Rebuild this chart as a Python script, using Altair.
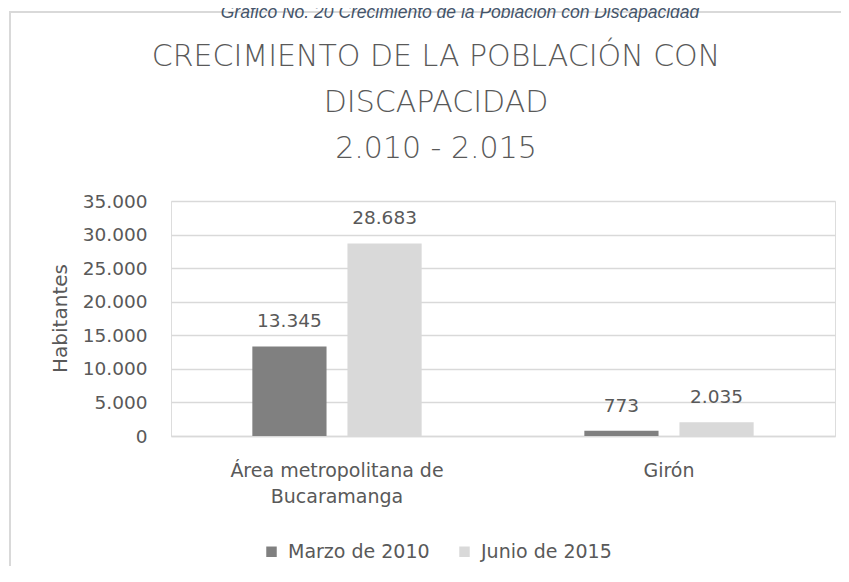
import altair as alt
import pandas as pd

categories = ["Área metropolitana de\nBucaramanga", "Girón"]
series = ["Marzo de 2010", "Junio de 2015"]
values_2010 = [13345, 773]
values_2015 = [28683, 2035]
y_ticks = [0, 5000, 10000, 15000, 20000, 25000, 30000, 35000]
title_lines = ["CRECIMIENTO DE LA POBLACIÓN CON", "DISCAPACIDAD", "2.010 - 2.015"]
caption = "Gráfico No. 20 Crecimiento de la Población con Discapacidad"

rows = []
for c, v in zip(categories, values_2010):
    rows.append({"cat": c, "serie": series[0], "val": v})
for c, v in zip(categories, values_2015):
    rows.append({"cat": c, "serie": series[1], "val": v})
df = pd.DataFrame(rows)

FONT = "DejaVu Sans"
TXT = "#595959"

x_axis = alt.Axis(labelExpr="split(datum.label, '\\n')", labelAngle=0,
                  labelFontSize=19, labelColor=TXT, labelFont=FONT,
                  labelLineHeight=26, labelPadding=25, ticks=False,
                  domainColor="#d9d9d9", domainWidth=1.5, labelLimit=0,
                  labelBaseline="top")
y_axis = alt.Axis(values=y_ticks, ticks=False, domain=False, labelOverlap=False,
                  labelExpr="replace(format(datum.value, ','), ',', '.')",
                  labelFontSize=18.5, labelColor=TXT, labelFont=FONT,
                  labelPadding=24, gridColor="#d9d9d9", gridWidth=1.5,
                  titleFontSize=20, titleFont=FONT, titleColor=TXT,
                  titleFontWeight="normal", titleX=-105, titleY=117,
                  titleAngle=-90, titleAlign="center",
                  titleBaseline="alphabetic")
x_scale = alt.Scale(paddingInner=0.49, paddingOuter=0.245)
xo_scale = alt.Scale(paddingInner=0.22, paddingOuter=0)
y_scale = alt.Scale(domain=[0, 35000])

bars = alt.Chart(df).mark_bar().encode(
    x=alt.X("cat:N", sort=categories, title=None, scale=x_scale, axis=x_axis),
    xOffset=alt.XOffset("serie:N", sort=series, scale=xo_scale),
    y=alt.Y("val:Q", title="Habitantes", scale=y_scale, axis=y_axis),
    color=alt.Color("serie:N", sort=series, title=None,
                    scale=alt.Scale(domain=series, range=["#808080", "#d9d9d9"]),
                    legend=alt.Legend(orient="none", legendX=91, legendY=341,
                                      direction="horizontal", symbolType="square",
                                      symbolSize=110, symbolStrokeWidth=0,
                                      labelFontSize=19, labelFont=FONT,
                                      labelColor=TXT, labelOffset=7,
                                      columnPadding=25)),
)

labels = alt.Chart(df).transform_calculate(
    lab="replace(format(datum.val, ','), ',', '.')"
).mark_text(font=FONT, fontSize=18.5, color=TXT, baseline="alphabetic", dy=-19).encode(
    x=alt.X("cat:N", sort=categories, title=None, scale=x_scale, axis=x_axis),
    xOffset=alt.XOffset("serie:N", sort=series, scale=xo_scale),
    y=alt.Y("val:Q", title="Habitantes", scale=y_scale, axis=y_axis),
    text="lab:N",
)

frame_top = alt.Chart(pd.DataFrame({"k": [0]})).mark_rule(
    stroke="#d9d9d9", strokeWidth=2
).encode(x=alt.value(-162), x2=alt.value(760), y=alt.value(-189))
frame_left = alt.Chart(pd.DataFrame({"k": [0]})).mark_rule(
    stroke="#d9d9d9", strokeWidth=2
).encode(x=alt.value(-161), y=alt.value(-189), y2=alt.value(420))

cap = alt.Chart(pd.DataFrame({"t": [caption]})).mark_text(
    font="Liberation Sans", fontStyle="italic", fontSize=17.5, color="#44546a",
    align="center", baseline="alphabetic"
).encode(text="t:N", x=alt.value(289), y=alt.value(-183))

title = alt.Chart(pd.DataFrame({"k": [0]})).mark_text(
    font=FONT, fontSize=30, fontWeight=300, color=TXT, align="center",
    baseline="alphabetic", lineHeight=46
).encode(text=alt.value(title_lines), x=alt.value(265), y=alt.value(-135))

chart = alt.layer(frame_top, frame_left, cap, title, bars, labels).properties(
    width=664, height=235,
    padding={"left": 163, "top": 193, "right": 6, "bottom": 130},
    autosize=alt.AutoSizeParams(type="none"),
).configure_view(strokeWidth=0).configure(background="white")

chart.save("out.html", embed_options={"renderer": "svg", "actions": False})
